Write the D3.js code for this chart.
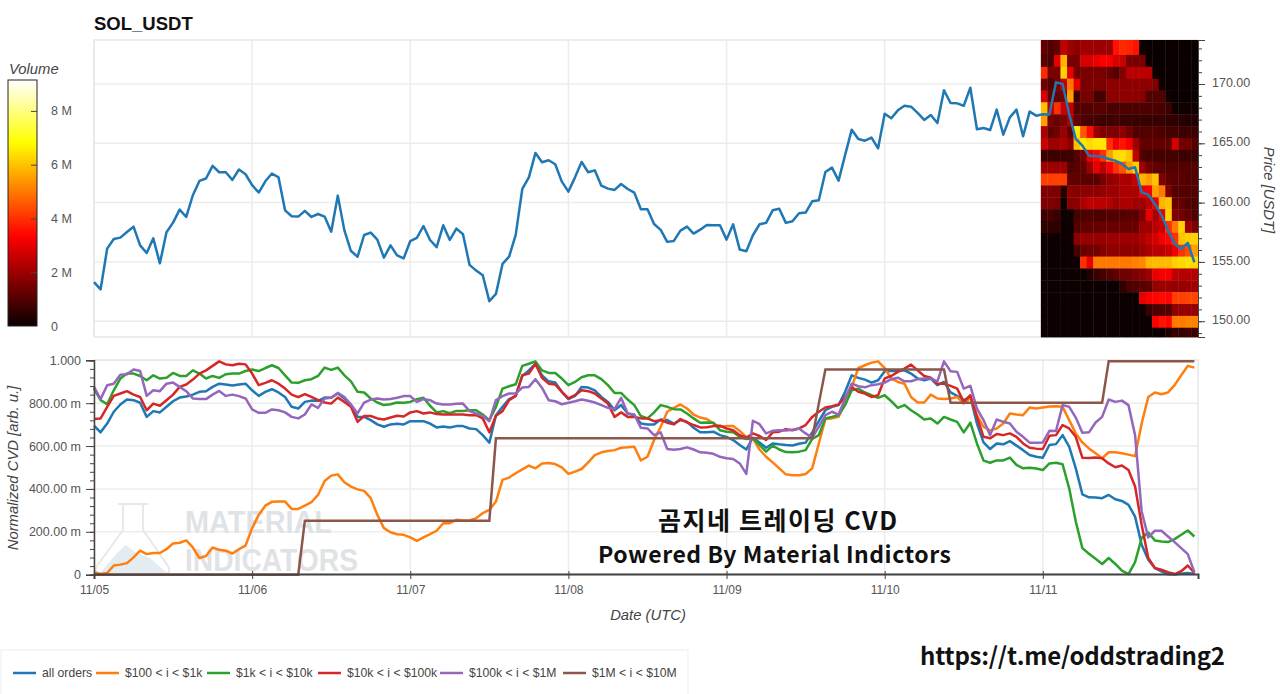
<!DOCTYPE html>
<html>
<head>
<meta charset="utf-8">
<title>SOL_USDT</title>
<script src="https://cdn.jsdelivr.net/npm/d3@7"></script>
<style>
    html, body { margin: 0; padding: 0; background: #fff; overflow: hidden; }
    text { font-family: "Liberation Sans", Arial, sans-serif; }
    .axis text { font-size: 12px; fill: #555; }
    .axis path, .axis line { stroke: #444; }
    .axisTitle { font-size: 14.8px; font-style: italic; fill: #444; }
    .overlay { font-family: "Noto Sans CJK KR", sans-serif; font-weight: 700; fill: #111; }
    .grid line { stroke: #ececec; stroke-width: 1.5px; }
</style>
</head>
<body>
<div id="chart"></div>
<script>
(function () {

    var seriesNames = ['all orders', '$100 < i < $1k', '$1k < i < $10k', '$10k < i < $100k', '$100k < i < $1M', '$1M < i < $10M'];
    var seriesColors = ['#1f77b4', '#ff7f0e', '#2ca02c', '#d62728', '#9467bd', '#8c564b'];
    var dayLabels = ['11/05', '11/06', '11/07', '11/08', '11/09', '11/10', '11/11'];
    var priceTicks = [150, 155, 160, 165, 170];
    var cvdTicks = [0, 0.2, 0.4, 0.6, 0.8, 1];
    var cvdTickLabels = ['0', '200.00 m', '400.00 m', '600.00 m', '800.00 m', '1.000'];
    var volumeTicks = [0, 2, 4, 6, 8];
    var volumeTickLabels = ['0', '2 M', '4 M', '6 M', '8 M'];

    // hourly close, starts 11/05 00:00
    var price = [
        153.30,152.68,156.12,156.93,157.05,157.52,157.97,156.40,155.75,156.99,154.88,157.50,158.31,159.41,158.79,160.62,161.83,162.03,163.10,162.56,162.56,161.92,162.79,162.39,
        161.47,160.85,161.80,162.45,162.14,159.35,158.85,158.82,159.30,158.79,159.04,158.82,157.55,160.59,157.66,155.92,155.44,157.27,157.47,156.88,155.36,156.40,155.55,155.30,
        156.76,157.02,158.03,156.85,156.24,158.09,156.85,157.81,157.33,154.75,154.27,153.88,151.69,152.30,154.83,155.45,157.28,161.15,162.13,164.19,163.40,163.57,163.23,161.77,
        160.93,162.13,163.43,162.56,162.72,161.43,161.18,161.07,161.57,161.15,160.84,159.44,159.44,158.20,157.70,156.69,156.77,157.64,157.98,157.39,157.72,158.12,158.09,158.09,
        156.88,158.17,156.04,155.90,157.25,158.17,158.29,159.35,159.49,158.29,158.43,159.10,159.16,160.11,160.20,162.58,162.95,161.85,164.02,166.15,165.37,165.22,165.48,164.58,
        167.50,167.11,167.78,168.17,168.09,167.56,166.97,167.39,166.71,169.47,168.40,168.37,168.17,169.69,166.18,166.29,166.12,167.84,165.73,167.19,167.84,165.59,167.67,167.33,
        167.45,167.42,170.14,170.00,167.47,165.37,164.80,163.96,163.93,163.88,163.68,163.54,163.26,162.84,162.98,160.87,160.67,159.89,158.96,157.64,156.52,156.10,156.60,154.97
    ];

    var cvdAll = [
        .695,.664,.705,.760,.794,.817,.814,.802,.736,.763,.757,.783,.809,.826,.831,.840,.853,.856,.876,.891,.887,.882,.887,.891,
        .860,.834,.853,.865,.850,.829,.783,.775,.806,.812,.811,.826,.825,.845,.822,.791,.736,.736,.721,.701,.690,.701,.704,.701,
        .716,.716,.716,.705,.687,.691,.687,.693,.693,.682,.679,.651,.616,.744,.783,.819,.834,.927,.953,.984,.930,.902,.896,.853,
        .819,.834,.876,.873,.860,.829,.806,.767,.791,.752,.744,.705,.701,.701,.724,.721,.705,.721,.713,.685,.664,.664,.667,.651,
        .643,.628,.605,.584,.639,.617,.592,.612,.608,.605,.603,.611,.616,.664,.716,.767,.783,.791,.853,.930,.918,.910,.896,.907,
        .949,.950,.950,.953,.938,.915,.907,.915,.884,.899,.850,.834,.814,.829,.705,.617,.586,.612,.608,.623,.602,.581,.558,.550,
        .546,.605,.609,.651,.597,.496,.375,.361,.360,.357,.372,.352,.344,.326,.271,.140,.070,.031,.016,.002,.001,.005,.008,.003
    ];
    var cvdSmall = [
        .012,.003,.008,.043,.047,.054,.081,.112,.096,.101,.101,.119,.146,.149,.160,.127,.078,.087,.127,.116,.112,.099,.119,.136,
        .217,.279,.322,.340,.341,.341,.307,.307,.322,.338,.372,.437,.462,.468,.431,.411,.398,.391,.357,.279,.217,.198,.189,.186,
        .174,.158,.174,.189,.205,.240,.240,.256,.253,.253,.264,.287,.302,.341,.442,.453,.473,.491,.509,.496,.519,.521,.516,.501,
        .470,.481,.493,.524,.558,.571,.577,.581,.592,.594,.597,.533,.550,.628,.690,.760,.778,.794,.775,.747,.733,.726,.705,.690,
        .693,.693,.670,.643,.636,.584,.550,.524,.496,.468,.464,.464,.470,.496,.612,.726,.729,.736,.806,.876,.964,.977,.989,.995,
        .964,.915,.899,.891,.829,.803,.803,.840,.822,.819,.822,.829,.798,.825,.744,.690,.673,.682,.705,.752,.747,.744,.780,.775,
        .780,.784,.786,.783,.721,.659,.617,.589,.566,.543,.571,.571,.566,.560,.553,.705,.829,.850,.842,.850,.884,.930,.974,.966
    ];
    var cvdMid = [
        .868,.814,.795,.860,.915,.938,.938,.927,.907,.930,.915,.919,.941,.927,.927,.953,.938,.915,.927,.918,.935,.938,.938,.950,
        .957,.950,.964,.977,.964,.930,.896,.895,.907,.912,.927,.966,.955,.966,.930,.902,.853,.850,.822,.803,.791,.795,.803,.802,
        .806,.819,.825,.788,.757,.763,.753,.764,.763,.767,.767,.747,.721,.783,.868,.879,.888,.974,.984,.995,.953,.941,.941,.915,
        .884,.899,.921,.930,.930,.912,.884,.848,.848,.817,.791,.740,.729,.757,.791,.783,.772,.771,.752,.729,.709,.710,.709,.674,
        .667,.664,.643,.633,.636,.605,.574,.602,.584,.572,.571,.574,.581,.633,.651,.729,.736,.744,.791,.860,.868,.850,.837,.825,
        .837,.809,.778,.791,.767,.747,.724,.729,.705,.736,.724,.713,.664,.709,.612,.532,.522,.533,.533,.546,.512,.496,.499,.495,
        .488,.519,.522,.515,.403,.248,.124,.098,.074,.050,.078,.050,.019,.003,.059,.171,.197,.160,.155,.152,.166,.186,.206,.178
    ];
    var cvdLarge = [
        .726,.729,.783,.834,.845,.856,.840,.829,.767,.798,.788,.814,.840,.876,.887,.910,.938,.953,.974,.995,.981,.977,.984,.981,
        .938,.884,.895,.907,.891,.868,.840,.828,.842,.829,.814,.803,.798,.826,.806,.783,.713,.740,.740,.729,.724,.733,.741,.738,
        .757,.763,.752,.757,.749,.747,.747,.747,.747,.744,.744,.729,.664,.741,.763,.814,.834,.930,.938,.984,.918,.891,.887,.853,
        .822,.837,.860,.856,.845,.822,.798,.736,.757,.736,.736,.729,.729,.716,.721,.709,.701,.726,.710,.698,.687,.688,.693,.695,
        .682,.674,.651,.639,.659,.647,.628,.664,.667,.679,.674,.682,.698,.736,.760,.780,.786,.794,.829,.876,.853,.845,.829,.837,
        .915,.927,.946,.961,.980,.953,.927,.919,.891,.891,.881,.868,.806,.837,.736,.643,.636,.656,.651,.659,.643,.612,.592,.588,
        .586,.648,.651,.698,.682,.643,.546,.544,.547,.543,.519,.501,.509,.488,.411,.233,.078,.031,.023,.012,.003,.016,.043,.008
    ];
    var cvdWhale = [
        .876,.819,.884,.891,.933,.935,.957,.950,.834,.860,.856,.891,.896,.876,.856,.822,.819,.819,.840,.857,.834,.840,.833,.822,
        .771,.755,.755,.771,.767,.757,.736,.729,.747,.794,.778,.822,.825,.848,.829,.794,.752,.803,.817,.822,.817,.820,.825,.833,
        .833,.806,.819,.814,.798,.794,.794,.797,.798,.763,.752,.741,.716,.814,.833,.845,.845,.873,.876,.912,.871,.814,.809,.795,
        .802,.809,.817,.811,.803,.791,.778,.772,.825,.752,.747,.685,.682,.651,.664,.586,.583,.586,.594,.584,.571,.569,.564,.550,
        .543,.540,.519,.470,.718,.702,.659,.671,.674,.673,.676,.682,.659,.639,.690,.744,.760,.747,.822,.891,.879,.874,.884,.888,
        .896,.912,.919,.902,.902,.912,.915,.915,.902,.995,.949,.946,.868,.881,.775,.721,.651,.724,.713,.705,.667,.643,.616,.616,
        .617,.671,.670,.791,.783,.733,.662,.664,.710,.736,.817,.806,.812,.791,.651,.295,.174,.205,.205,.178,.152,.124,.096,.012
    ];
    // the $1M+ bucket only moves in steps, so just the corners
    var cvdMegaHours = [0, 31, 32, 60, 61, 109, 110, 111, 129, 130, 153, 154, 167];
    var cvdMegaValues = [0, 0, .252, .252, .636, .636, .798, .957, .957, .802, .802, .996, .996];

    var heatEdges = [173.71,172.45,171.45,170.45,169.45,168.45,167.45,166.45,165.45,164.45,163.45,162.45,161.45,160.45,159.45,158.45,157.45,156.45,155.45,154.45,153.45,152.45,151.45,150.45,149.45,148.67];
    // volume in M, one row per price bin (top first), one column per hour of the last day
    var heatVolume = [
        [1.2,1.0,1.2,2.5,2.0,1.8,2,2,2,2,2,3.6,3.9,3.8,3.6,.1,0,0,0,0,0,0,0,0],
        [1.0,.9,3,5.8,1.5,1.5,2.8,2.8,3.0,3.3,3.2,2.8,2.6,1.5,1.5,1.5,.05,0,0,0,0,0,0,0],
        [3.9,1.5,1.5,6.2,3,1.4,1.5,1.5,1.5,1.5,1.3,1,1.6,2.4,2.4,2.4,2.4,.1,0,0,0,0,0,0],
        [1.4,1,1.5,2.5,5,3,1.5,1.6,1.6,1.6,1.8,1.8,1.8,1.8,1.8,1.8,1.8,1.6,.1,0,0,0,0,0],
        [2.8,1.2,1.2,1.5,5.5,.7,1.5,1.5,.8,.8,1.8,1.8,1.8,1.8,1.8,1.7,1,1,1,.1,0,0,0,0],
        [6,2.5,4,2.6,2.5,1,1,1,1.1,1.1,.9,.9,.9,.9,.9,.9,.9,.9,.8,.7,.1,.1,.1,.1],
        [5.5,1.5,1.3,1.5,2.2,1.2,.9,.8,.8,.7,.7,.8,.7,.7,.6,.7,.6,.6,.6,.5,.5,.4,.3,.3],
        [2.2,1.2,1.4,2,1.2,6.5,4.5,3.5,2,1.6,1.6,1.6,1.8,1.4,1,1,1,1,.9,.8,.8,.7,.7,.7],
        [2.6,2,2,2.2,1.8,6,6.5,6.3,6.5,6.5,4,3.2,3.6,3.2,2,1.2,1.2,1.2,1.2,1.2,2.8,1.4,1.4,1],
        [.7,.7,.7,.7,.7,1,1.5,3,3.4,4,5.5,6.3,6.4,6,2.5,1,.8,.8,.8,.8,.8,.7,.7,.7],
        [2,2,2,2,1,1.1,1.2,2,3,2.4,3.2,4,4.5,5.5,6.2,2,1.4,1.2,1.1,1,1,1,1,1],
        [4.2,4.2,4.2,4.2,1.2,1.2,1.1,1.1,1.1,1.5,1.8,2,2.2,2.2,2.6,5.8,5.5,6,1.6,1.2,1.1,1.1,1,1],
        [1.6,1.6,1.6,.4,1.8,1.7,1.8,1.8,1.8,1.9,2,2,2.2,2.2,2.2,3,3.2,5.5,5,1.6,1,1,1,1],
        [1.6,1.6,1.5,.1,1.7,1.8,2.2,2.5,2.4,2.4,2.3,2,2.2,2.2,2,2,2.4,3,5.8,6,1.3,1.2,1,.9],
        [.7,.8,.6,.05,.1,.8,.9,1,.9,.9,1,1,1,1.1,1.1,1.6,3,2.2,3,6.2,1.6,1.4,1.2,1],
        [.5,.5,.5,.03,.03,1,1.2,1.2,1.2,1.3,1.3,1.3,1.3,1.3,1.3,2,2,2.4,2.6,4,5,6.2,2,1.6],
        [.05,.05,.05,.05,.05,1.8,1.9,1.9,1.9,1.9,2,2,2,2,2,2.2,2.5,2.8,3.2,3.4,4,6,6.2,6.2],
        [.03,.03,.03,.03,.03,.8,1.3,1.4,1.4,1.7,1.8,1.8,1.8,1.8,1.8,2,2.2,2.4,2.4,2.6,3.2,4,4.4,5.5],
        [.03,.03,.03,.03,.03,.1,4,3,5,5,5,5,5,5,5.1,5.2,5.8,5.9,5.9,5.9,6.2,6.3,6.4,6.3],
        [.03,.03,.03,.03,.03,.03,.03,.3,.7,.8,1,1.2,1.4,1.4,1.6,1.7,2,3,3.2,3.2,2.4,2.3,2.3,2.3],
        [.03,.03,.03,.03,.03,.03,.03,.03,.03,.03,.03,.03,.5,.9,1,1.1,1.2,1.9,2,2,1.9,1.9,2,2],
        [.03,.03,.03,.03,.03,.03,.03,.03,.03,.03,.03,.03,.03,.03,.03,3,3.3,3.4,3.5,3.4,4.2,4.2,4.3,4.3],
        [.03,.03,.03,.03,.03,.03,.03,.03,.03,.03,.03,.03,.03,.03,.03,.03,.7,.9,1,1,1.8,1.9,1.9,1.9],
        [.03,.03,.03,.03,.03,.03,.03,.03,.03,.03,.03,.03,.03,.03,.03,.03,.03,3.3,3.6,3.4,5,5,5.1,5.1],
        [.03,.03,.03,.03,.03,.03,.03,.03,.03,.03,.03,.03,.03,.03,.03,.03,.03,.03,.03,.3,.6,.6,.7,.7]
    ];

    var width = 1280, height = 694;
    var svg = d3.select('#chart').append('svg')
        .attr('width', width).attr('height', height)
        .style('display', 'block');

    var startTime = Date.UTC(2023, 10, 5);
    var hourTime = function (h) { return new Date(startTime + h * 3600000); };
    var dayTimes = dayLabels.map(function (d, i) { return hourTime(i * 24); });

    var x = d3.scaleUtc().domain([hourTime(0), hourTime(167.55)]).range([94, 1198]);
    var yPrice = d3.scaleLinear().domain([148.67, 173.71]).range([337, 40]);
    var yCvd = d3.scaleLinear().domain([0, 1]).range([574.7, 360.3]);

    var volumeMax = 9.15;
    var yVolume = d3.scaleLinear().domain([0, volumeMax]).range([326, 80]);
    var heatColor = d3.scaleLinear()
        .domain([0, .365 * volumeMax, .746 * volumeMax, volumeMax])
        .range(['#0a0000', '#ff0000', '#ffff00', '#ffffff']);

    // panel frames and grid
    var drawGrid = function (yScale, ticks, top, bottom) {
        var g = svg.append('g').attr('class', 'grid');
        g.selectAll('.h').data(ticks).enter().append('line')
            .attr('x1', 94).attr('x2', 1198)
            .attr('y1', function (d) { return yScale(d); })
            .attr('y2', function (d) { return yScale(d); });
        g.selectAll('.v').data(dayTimes).enter().append('line')
            .attr('x1', function (d) { return x(d); })
            .attr('x2', function (d) { return x(d); })
            .attr('y1', top).attr('y2', bottom);
        g.append('rect').attr('x', 94).attr('y', top)
            .attr('width', 1104).attr('height', bottom - top)
            .attr('fill', 'none').attr('stroke', '#e8e8e8').attr('stroke-width', 1.5);
    };
    drawGrid(yPrice, priceTicks, 40, 337);
    drawGrid(yCvd, cvdTicks, 360, 574);

    // watermark behind the CVD lines
    var mark = svg.append('g');
    mark.append('path')
        .attr('d', 'M100,573 L118,552 L126,545 L135,552 L150,558 L167,573 Z')
        .attr('fill', '#e3edf1');
    mark.append('path')
        .attr('d', 'M123,504 L143,504 L143,530 L168,566 Q172,574 164,574 L101,574 Q93,574 97,566 L123,530 Z M118,504 L148,504')
        .attr('fill', 'none').attr('stroke', '#e6e8ea').attr('stroke-width', 2);
    mark.append('text').attr('x', 185).attr('y', 533)
        .attr('textLength', 147).attr('lengthAdjust', 'spacingAndGlyphs')
        .attr('font-size', 32).attr('font-weight', 700).attr('fill', '#dfe3e6')
        .text('MATERIAL');
    mark.append('text').attr('x', 185).attr('y', 571)
        .attr('textLength', 173).attr('lengthAdjust', 'spacingAndGlyphs')
        .attr('font-size', 32).attr('font-weight', 700).attr('fill', '#dfe3e6')
        .text('INDICATORS');

    // volume profile heatmap
    var heatCols = d3.scaleBand().domain(d3.range(24)).range([x(hourTime(143.7)), 1198]);
    var heatG = svg.append('g');
    heatVolume.forEach(function (row, r) {
        heatG.selectAll('.r' + r).data(row).enter().append('rect')
            .attr('x', function (d, c) { return heatCols(c); })
            .attr('y', yPrice(heatEdges[r]))
            .attr('width', heatCols.bandwidth() + 0.4)
            .attr('height', yPrice(heatEdges[r + 1]) - yPrice(heatEdges[r]) + 0.4)
            .attr('fill', function (d) { return heatColor(d); });
    });

    // price line
    var priceLine = d3.line()
        .x(function (d, i) { return x(hourTime(i)); })
        .y(function (d) { return yPrice(d); });
    svg.append('path').datum(price)
        .attr('d', priceLine)
        .attr('fill', 'none').attr('stroke', seriesColors[0]).attr('stroke-width', 2.5)
        .attr('stroke-linejoin', 'round');

    // CVD lines
    var cvdLine = d3.line()
        .x(function (d, i) { return x(hourTime(i)); })
        .y(function (d) { return yCvd(d); });
    [cvdAll, cvdSmall, cvdMid, cvdLarge, cvdWhale].forEach(function (s, i) {
        svg.append('path').datum(s)
            .attr('d', cvdLine)
            .attr('fill', 'none').attr('stroke', seriesColors[i]).attr('stroke-width', 2.5)
            .attr('stroke-linejoin', 'round');
    });
    var megaLine = d3.line()
        .x(function (d, i) { return x(hourTime(cvdMegaHours[i])); })
        .y(function (d) { return yCvd(d); });
    svg.append('path').datum(cvdMegaValues)
        .attr('d', megaLine)
        .attr('fill', 'none').attr('stroke', seriesColors[5]).attr('stroke-width', 2.5);

    // right price axis
    var priceAxis = d3.axisRight(yPrice).tickValues(priceTicks).tickSize(7).tickPadding(7)
        .tickFormat(d3.format('.2f'));
    var priceMinor = d3.axisRight(yPrice).tickValues(d3.range(149, 174)).tickSize(4).tickFormat('');
    svg.append('g').attr('class', 'axis').attr('transform', 'translate(1198,0)').call(priceMinor);
    var pa = svg.append('g').attr('class', 'axis').attr('transform', 'translate(1198,0)').call(priceAxis);
    pa.selectAll('text').style('font-size', '12.5px').attr('dy', '0.2em');

    // left CVD axis
    var cvdLabel = d3.scaleOrdinal().domain(cvdTicks).range(cvdTickLabels);
    var cvdMinor = d3.axisLeft(yCvd).tickValues(d3.range(0, 1.001, 0.04)).tickSize(4).tickFormat('');
    var cvdAxis = d3.axisLeft(yCvd).tickValues(cvdTicks).tickSize(8).tickPadding(5)
        .tickFormat(function (d) { return cvdLabel(d); });
    svg.append('g').attr('class', 'axis').attr('transform', 'translate(94,0)').call(cvdMinor);
    var ca = svg.append('g').attr('class', 'axis').attr('transform', 'translate(94,0)').call(cvdAxis);
    ca.selectAll('path').attr('stroke-width', 1.5);
    ca.selectAll('text').style('font-size', '12.5px');

    // bottom date axis
    var dateAxis = d3.axisBottom(x).tickValues(dayTimes).tickSize(5).tickPadding(6)
        .tickFormat(function (d, i) { return dayLabels[i]; });
    var da = svg.append('g').attr('class', 'axis').attr('transform', 'translate(0,574)').call(dateAxis);
    da.select('.domain').attr('stroke-width', 2).attr('stroke', '#555');
    da.selectAll('.tick line').attr('y1', -3);

    // colour bar
    var barGrad = svg.append('defs').append('linearGradient').attr('id', 'volumeGrad')
        .attr('x1', 0).attr('x2', 0).attr('y1', 1).attr('y2', 0);
    barGrad.selectAll('stop').data(d3.range(0, 1.001, 0.02)).enter().append('stop')
        .attr('offset', function (d) { return d; })
        .attr('stop-color', function (d) { return heatColor(d * volumeMax); });
    svg.append('rect').attr('x', 8).attr('y', yVolume(volumeMax)).attr('width', 29)
        .attr('height', yVolume(0) - yVolume(volumeMax))
        .attr('fill', 'url(#volumeGrad)').attr('stroke', '#222').attr('stroke-width', 1);
    var volumeLabel = d3.scaleOrdinal().domain(volumeTicks).range(volumeTickLabels);
    var volumeAxis = d3.axisRight(yVolume).tickValues(volumeTicks).tickSize(0).tickPadding(14)
        .tickFormat(function (d) { return volumeLabel(d); });
    var va = svg.append('g').attr('class', 'axis').attr('transform', 'translate(37,0)').call(volumeAxis);
    va.select('.domain').remove();
    va.selectAll('text').style('font-size', '12.5px');
    va.selectAll('.tick').append('line').attr('x1', -6).attr('x2', 0)
        .attr('stroke', '#333').filter(function (d) { return d === 0; }).remove();

    // titles
    svg.append('text').attr('x', 94).attr('y', 30)
        .attr('font-size', 18.5).attr('font-weight', 700).attr('fill', '#111').text('SOL_USDT');
    svg.append('text').attr('class', 'axisTitle').attr('x', 9).attr('y', 74).text('Volume');
    svg.append('text').attr('class', 'axisTitle').attr('x', 648).attr('y', 620)
        .attr('text-anchor', 'middle').text('Date (UTC)');
    svg.append('text').attr('class', 'axisTitle')
        .attr('transform', 'translate(18,468) rotate(-90)')
        .attr('text-anchor', 'middle').text('Normalized CVD [arb. u.]');
    svg.append('text').attr('class', 'axisTitle')
        .attr('transform', 'translate(1264,190) rotate(90)')
        .attr('text-anchor', 'middle').text('Price [USDT]');

    // pasted-on captions
    svg.append('text').attr('class', 'overlay').attr('x', 658).attr('y', 530)
        .attr('font-size', 25).attr('textLength', 239).text('곰지네 트레이딩 CVD');
    svg.append('text').attr('class', 'overlay').attr('x', 598).attr('y', 563)
        .attr('font-size', 23).attr('textLength', 353).text('Powered By Material Indictors');
    svg.append('text').attr('class', 'overlay').attr('x', 920).attr('y', 665)
        .attr('font-size', 24).attr('textLength', 305).text('https://t.me/oddstrading2');

    // legend
    var legendX = [13, 96, 207, 318, 440, 563];
    svg.append('rect').attr('x', 1).attr('y', 650).attr('width', 687).attr('height', 50)
        .attr('fill', '#fff').attr('stroke', '#eee').attr('stroke-width', 1);
    var legend = svg.selectAll('.legendItem').data(seriesNames).enter().append('g')
        .attr('class', 'legendItem')
        .attr('transform', function (d, i) { return 'translate(' + legendX[i] + ',673)'; });
    legend.append('line').attr('x1', 0).attr('x2', 23)
        .attr('stroke', function (d, i) { return seriesColors[i]; }).attr('stroke-width', 2.5);
    legend.append('text').attr('x', 29).attr('y', 4)
        .attr('font-size', 12.2).attr('fill', '#444').text(function (d) { return d; });

})();
</script>
</body>
</html>
